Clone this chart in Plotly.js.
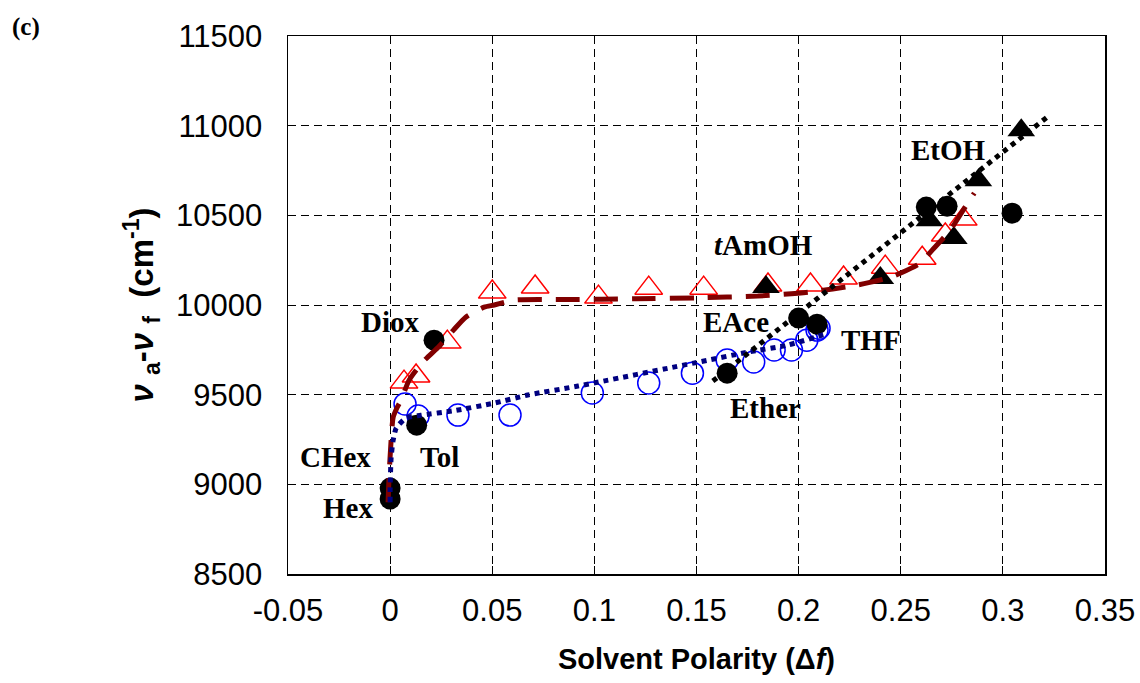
<!DOCTYPE html>
<html>
<head>
<meta charset="utf-8">
<script src="https://cdn.plot.ly/plotly-3.0.1.min.js"></script>
<style>html,body{margin:0;padding:0;background:#fff;}</style>
</head>
<body>
<div id="chart" style="width:1140px;height:683px;"></div>
<script>
// ---- data ----
var redTriX = [0.0068, 0.0127, 0.028, 0.050, 0.071, 0.102, 0.1266, 0.1535, 0.185, 0.2058, 0.222, 0.2424, 0.2605, 0.2718, 0.2806];
var redTriY = [9570, 9604, 9793, 10072, 10100, 10044, 10094, 10094, 10111, 10111, 10150, 10211, 10261, 10390, 10479];

var blueCircX = [0.0073, 0.0137, 0.0332, 0.0587, 0.099, 0.1266, 0.148, 0.165, 0.178, 0.188, 0.1965, 0.204, 0.209, 0.210];
var blueCircY = [9448, 9381, 9386, 9386, 9509, 9565, 9620, 9693, 9682, 9749, 9749, 9804, 9860, 9870];

var blackCircX = [0, 0, 0.013, 0.0215, 0.165, 0.200, 0.209, 0.2625, 0.2727, 0.3045];
var blackCircY = [8918, 8979, 9330, 9804, 9620, 9927, 9893, 10546, 10551, 10512];

var blackTriX = [0.184, 0.240, 0.264, 0.276, 0.288, 0.309];
var blackTriY = [10100, 10150, 10473, 10373, 10696, 10975];

var redFitX = [-0.001, -0.0005, 0.0005, 0.0015, 0.0035, 0.0054, 0.0093, 0.016, 0.024, 0.031, 0.037, 0.046, 0.051, 0.0606, 0.087, 0.12, 0.15, 0.18, 0.205, 0.2287, 0.245, 0.25, 0.2595, 0.2654, 0.2742, 0.279, 0.286];
var redFitY = [8900, 9050, 9250, 9375, 9430, 9470, 9581, 9682, 9770, 9860, 9932, 9988, 10000, 10027, 10030, 10035, 10040, 10050, 10072, 10111, 10155, 10178, 10233, 10306, 10417, 10501, 10624];

var navyFitX = [0, 0, 0.0005, 0.0015, 0.003, 0.0078, 0.015, 0.031, 0.051, 0.0674, 0.092, 0.1486, 0.175, 0.1945, 0.2146];
var navyFitY = [8900, 8980, 9150, 9247, 9314, 9370, 9385, 9410, 9453, 9498, 9548, 9676, 9737, 9776, 9843];

var blackFitX = [0.158, 0.3216];
var blackFitY = [9576, 11047];

var xTickVals = [-0.05, 0, 0.05, 0.1, 0.15, 0.2, 0.25, 0.3, 0.35];
var xTickText = ["-0.05", "0", "0.05", "0.1", "0.15", "0.2", "0.25", "0.3", "0.35"];
var yTickVals = [8500, 9000, 9500, 10000, 10500, 11000, 11500];
var yTickText = ["8500", "9000", "9500", "10000", "10500", "11000", "11500"];

var solventLabels = ["Diox", "CHex", "Tol", "Hex", "Ether", "EAce", "THF", "<i>t</i>AmOH", "EtOH"];
var labelX = [0.0, -0.0269, 0.0244, -0.0205, 0.1838, 0.1691, 0.2356, 0.1828, 0.2732];
var labelY = [9905, 9152, 9152, 8868, 9425, 9905, 9804, 10334, 10863];

// ---- traces ----
var traces = [
  {x: redTriX, y: redTriY, type: 'scatter', mode: 'markers', name: 'red triangles',
   marker: {symbol: 'triangle-up-open', size: 24, color: '#FF0000', line: {color: '#FF0000', width: 1.5}}},
  {x: blueCircX, y: blueCircY, type: 'scatter', mode: 'markers', name: 'blue circles',
   marker: {symbol: 'circle-open', size: 22, color: '#0000FF', line: {color: '#0000FF', width: 1.5}}},
  {x: blackCircX, y: blackCircY, type: 'scatter', mode: 'markers', name: 'black circles',
   marker: {symbol: 'circle', size: 21, color: '#000000'}},
  {x: blackTriX, y: blackTriY, type: 'scatter', mode: 'markers', name: 'black triangles',
   marker: {symbol: 'triangle-up', size: 24, color: '#000000'}},
  {x: redFitX, y: redFitY, type: 'scatter', mode: 'lines', name: 'red fit',
   line: {color: '#800000', width: 5, dash: '24px,14px', shape: 'spline', smoothing: 0.6}},
  {x: navyFitX, y: navyFitY, type: 'scatter', mode: 'lines', name: 'navy fit',
   line: {color: '#000080', width: 5, dash: '5px,5px', shape: 'spline', smoothing: 0.6}},
  {x: blackFitX, y: blackFitY, type: 'scatter', mode: 'lines', name: 'black fit',
   line: {color: '#000000', width: 5, dash: '5px,5px'}}
];

var annotations = [];
for (var i = 0; i < solventLabels.length; i++) {
  annotations.push({x: labelX[i], y: labelY[i], xref: 'x', yref: 'y', text: '<b>' + solventLabels[i] + '</b>',
    showarrow: false, xanchor: 'center', yanchor: 'middle',
    font: {family: 'Liberation Serif, Times New Roman, serif', size: 29, color: '#000'}});
}
annotations.push({x: -0.3207, y: 1.017, xref: 'paper', yref: 'paper', text: '<b>(c)</b>', showarrow: false,
  xanchor: 'center', yanchor: 'middle', font: {family: 'Liberation Serif, Times New Roman, serif', size: 25, color: '#000'}});

var axisCommon = {
  showgrid: true, gridcolor: '#000000', gridwidth: 1, griddash: '8px,5px',
  zeroline: false, showline: true, mirror: true, linecolor: '#000000', linewidth: 1.5,
  ticks: 'inside', ticklen: 8, tickcolor: '#000000', tickwidth: 1,
  tickfont: {family: 'Liberation Sans, Arial, sans-serif', size: 31, color: '#000'},
  automargin: false
};

var layout = {
  width: 1140, height: 683,
  margin: {l: 288, r: 35, t: 36, b: 109},
  paper_bgcolor: '#ffffff', plot_bgcolor: '#ffffff',
  showlegend: false,
  xaxis: Object.assign({}, axisCommon, {
    range: [-0.05, 0.35], tickmode: 'array', tickvals: xTickVals, ticktext: xTickText,
    ticklabelstandoff: 8,
    title: {text: 'Solvent Polarity (Δ<i>f</i>)', standoff: 22,
      font: {family: 'Liberation Sans, Arial, sans-serif', size: 29, color: '#000', weight: 'bold'}}
  }),
  yaxis: Object.assign({}, axisCommon, {
    range: [8500, 11500], tickmode: 'array', tickvals: yTickVals, ticktext: yTickText,
    ticklabelstandoff: 18,
    title: {text: '<i>ν</i> <sub>a</sub>-<i>ν</i> <sub>f</sub>  (cm<sup>-1</sup>)', standoff: 12,
      font: {family: 'Liberation Sans, Arial, sans-serif', size: 33, color: '#000', weight: 'bold'}}
  }),
  annotations: annotations
};

Plotly.newPlot('chart', traces, layout, {displayModeBar: false, staticPlot: true});
</script>
</body>
</html>
